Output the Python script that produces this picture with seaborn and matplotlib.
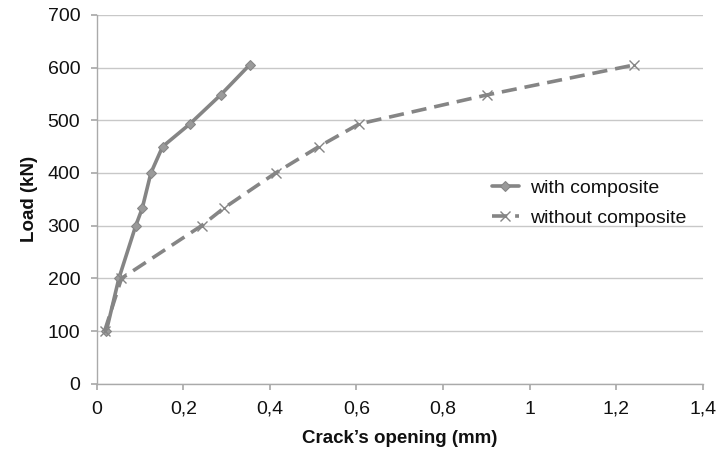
import pandas as pd
import matplotlib
matplotlib.use("Agg")
import matplotlib.pyplot as plt
import seaborn as sns

# ── Data ──────────────────────────────────────────────────────
load_kn = [100, 200, 300, 333, 400, 450, 493, 548, 605]
with_composite = [0.022, 0.051, 0.090, 0.105, 0.125, 0.152, 0.215, 0.286, 0.353]
without_composite = [0.018, 0.057, 0.242, 0.293, 0.413, 0.513, 0.606, 0.901, 1.242]

x_ticks = [0, 0.2, 0.4, 0.6, 0.8, 1.0, 1.2, 1.4]
x_tick_labels = ["0", "0,2", "0,4", "0,6", "0,8", "1", "1,2", "1,4"]
y_ticks = [0, 100, 200, 300, 400, 500, 600, 700]

df_with = pd.DataFrame({"opening": with_composite, "load": load_kn})
df_without = pd.DataFrame({"opening": without_composite, "load": load_kn})

# ── Style ─────────────────────────────────────────────────────
sns.set_theme(style="white")
plt.rcParams['font.family'] = ['Liberation Sans', 'DejaVu Sans']

fig = plt.figure(figsize=(7.17, 4.5), dpi=100)
ax = fig.add_axes([0.135, 0.147, 0.845, 0.82])

grey = "#858585"
sns.lineplot(data=df_with, x="opening", y="load", sort=False, estimator=None,
             color=grey, linewidth=2.6, marker="D", markersize=5,
             markerfacecolor="#9a9a9a", markeredgecolor=grey,
             label="with composite", ax=ax)
sns.lineplot(data=df_without, x="opening", y="load", sort=False, estimator=None,
             color=grey, linewidth=2.6, linestyle=(0, (4.2, 2.2)), marker="x",
             markersize=7, markeredgewidth=1, markeredgecolor=grey,
             label="without composite", ax=ax)

ax.set_xlim(0, 1.4)
ax.set_ylim(0, 700)
ax.set_xticks(x_ticks)
ax.set_xticklabels(x_tick_labels)
ax.set_yticks(y_ticks)
ax.tick_params(axis="both", labelsize=14, length=4, color="#aaaaaa",
               labelcolor="#111111", direction="out", bottom=True, left=True,
               pad=8)
ax.yaxis.grid(True, color="#c8c8c8", linewidth=1)
ax.set_axisbelow(True)
for side in ["top", "right"]:
    ax.spines[side].set_visible(False)
for side in ["left", "bottom"]:
    ax.spines[side].set_color("#aaaaaa")
    ax.spines[side].set_linewidth(1)

ax.set_xlabel("Crack’s opening (mm)", fontsize=13.5, fontweight="bold",
              color="#111111", labelpad=9)
ax.set_ylabel("Load (kN)", fontsize=13.5, fontweight="bold", color="#111111",
              labelpad=7)

ax.legend(title=None, frameon=False, fontsize=14, loc="center left",
          bbox_to_anchor=(0.624, 0.49), handlelength=1.35, handletextpad=0.6,
          labelspacing=0.62, labelcolor="#111111")

fig.savefig("out.png", dpi=100)
